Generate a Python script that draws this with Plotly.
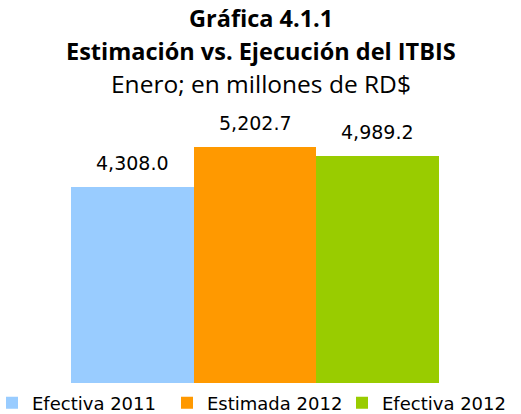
import plotly.graph_objects as go

series = ["Efectiva 2011", "Estimada 2012", "Efectiva 2012"]
values = [4308.0, 5202.7, 4989.2]
colors = ["#99CCFF", "#FF9900", "#99CC00"]
labels = ["4,308.0", "5,202.7", "4,989.2"]

W, H = 521, 414
T, B = 100, 31
ph = H - T - B
# bars span pixels 71..439 on a full-width plot area
bar_px = (439 - 71) / 3
x0 = -0.5 - 71 / bar_px
x1 = x0 + W / bar_px

def ypaper(p):
    return (H - B - p) / ph

fig = go.Figure()
for s, v, c in zip(series, values, colors):
    fig.add_trace(go.Bar(x=[s], y=[v], name=s, marker=dict(color=c, line=dict(width=0))))

annotations = []
for s, v, lab in zip(series, values, labels):
    annotations.append(dict(x=s, y=v, xref="x", yref="y", text=lab, showarrow=False,
                            yanchor="bottom", yshift=11,
                            font=dict(family="DejaVu Sans", size=19, color="#000000")))

annotations.append(dict(x=0.5, xref="paper", y=ypaper(18), yref="paper", xanchor="center", yanchor="middle",
                        text="<b>Gráfica 4.1.1</b>", showarrow=False,
                        font=dict(family="Open Sans", size=23.5, color="#000000")))
annotations.append(dict(x=0.5, xref="paper", y=ypaper(51), yref="paper", xanchor="center", yanchor="middle",
                        text="<b>Estimación vs. Ejecución del ITBIS</b>", showarrow=False,
                        font=dict(family="Open Sans", size=23.5, color="#000000")))
annotations.append(dict(x=0.5, xref="paper", y=ypaper(83), yref="paper", xanchor="center", yanchor="middle",
                        text="Enero; en millones de RD$", showarrow=False,
                        font=dict(family="Open Sans", size=24.5, color="#000000")))

fig.update_layout(
    width=W, height=H,
    margin=dict(l=0, r=0, t=T, b=B, pad=0, autoexpand=False),
    paper_bgcolor="white", plot_bgcolor="white",
    barmode="overlay", bargap=0,
    showlegend=True,
    legend=dict(orientation="h",
                x=-8 / W, xanchor="left", y=ypaper(403), yanchor="middle",
                font=dict(family="DejaVu Sans", size=18, color="#000000"),
                entrywidth=130, entrywidthmode="pixels",
                bgcolor="rgba(0,0,0,0)", itemclick=False,
                tracegroupgap=0),
    xaxis=dict(range=[x0, x1], showticklabels=False, showgrid=False, zeroline=False, showline=False, ticks=""),
    yaxis=dict(range=[0, 6230], showticklabels=False, showgrid=False, zeroline=False, showline=False, ticks=""),
    annotations=annotations,
)

fig.write_html("out.html", config={"displayModeBar": False},
               post_script="document.body.style.margin='0';")
